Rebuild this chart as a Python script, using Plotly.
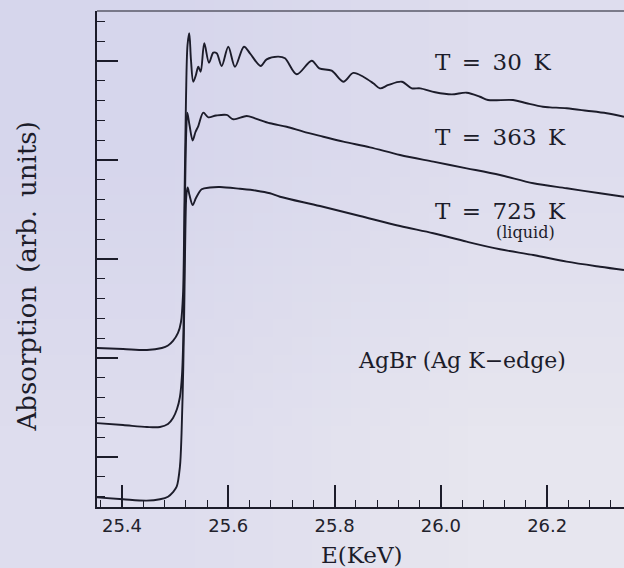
import base64
import struct
import zlib

import plotly.graph_objects as go

# ---- data (E in keV, absorption in arbitrary units) ----
e_30 = [25.351, 25.402, 25.447, 25.475, 25.4866, 25.496, 25.5054, 25.511, 25.5148,
        25.5176, 25.5204, 25.5233, 25.5266, 25.5298, 25.5341, 25.5391, 25.5436, 25.5481,
        25.5548, 25.5637, 25.5718, 25.5782, 25.5876, 25.6000, 25.6126, 25.6295, 25.6408,
        25.6610, 25.6722, 25.6941, 25.7067, 25.7287, 25.7569, 25.7712, 25.7945, 25.8164,
        25.8352, 25.8540, 25.8728, 25.8854, 25.9014, 25.9264, 25.9452, 25.9610, 25.9892,
        26.0204, 26.0486, 26.0736, 26.0886, 26.1357, 26.1614, 26.1921, 26.2053, 26.2367,
        26.2743, 26.3120, 26.3445]
a_30 = [2.101, 2.091, 2.081, 2.101, 2.126, 2.172, 2.253, 2.364, 2.640,
        3.596, 4.606, 5.162, 5.280, 5.010, 4.791, 4.859, 4.942, 4.892,
        5.179, 4.983, 5.084, 5.078, 4.949, 5.144, 4.942, 5.144, 5.078,
        4.949, 5.017, 5.044, 5.027, 4.866, 5.003, 4.926, 4.902, 4.791,
        4.880, 4.841, 4.775, 4.724, 4.758, 4.791, 4.724, 4.724, 4.684,
        4.663, 4.680, 4.639, 4.606, 4.606, 4.573, 4.538, 4.532, 4.522,
        4.498, 4.472, 4.437]

e_363 = [25.351, 25.402, 25.447, 25.4715, 25.4866, 25.496, 25.5035, 25.509, 25.5129,
         25.5157, 25.5185, 25.5210, 25.5229, 25.5270, 25.5330, 25.5383, 25.5436, 25.5530,
         25.5624, 25.5769, 25.5970, 25.6094, 25.6346, 25.6502, 25.6785, 25.7099, 25.7411,
         25.7788, 25.8164, 25.8666, 25.9231, 25.9857, 26.0486, 26.1112, 26.1739, 26.2367,
         26.2994, 26.3445]
a_363 = [1.343, 1.323, 1.303, 1.303, 1.333, 1.394, 1.485, 1.606, 1.828,
         2.283, 3.596, 4.303, 4.478, 4.354, 4.197, 4.283, 4.343, 4.478,
         4.431, 4.449, 4.455, 4.411, 4.444, 4.421, 4.371, 4.336, 4.286,
         4.235, 4.185, 4.128, 4.051, 3.983, 3.916, 3.848, 3.765, 3.714,
         3.664, 3.629]

e_725 = [25.351, 25.4019, 25.4465, 25.4715, 25.4866, 25.496, 25.5029, 25.509, 25.5121,
         25.5153, 25.5174, 25.5193, 25.5212, 25.5236, 25.5270, 25.5330, 25.5392, 25.5500,
         25.5656, 25.5844, 25.6220, 25.6534, 25.6785, 25.6973, 25.7725, 25.8478, 25.9231,
         25.9857, 26.0486, 26.1112, 26.1739, 26.2367, 26.2994, 26.3445]
a_725 = [0.593, 0.573, 0.559, 0.573, 0.599, 0.646, 0.700, 0.902, 1.242,
         1.912, 2.586, 3.293, 3.646, 3.722, 3.646, 3.545, 3.616, 3.704,
         3.722, 3.727, 3.709, 3.690, 3.664, 3.629, 3.535, 3.434, 3.333,
         3.260, 3.175, 3.098, 3.040, 2.973, 2.922, 2.889]

x_tick_vals = [25.4, 25.6, 25.8, 26.0, 26.2]
x_tick_text = ["25.4", "25.6", "25.8", "26.0", "26.2"]

series_labels = ["T = 30 K", "T = 363 K", "T = 725 K"]
label_y = [4.99, 4.237, 3.485]

BG = "#dcdbec"
INK = "#1c1c2a"
SERIF = "DejaVu Serif"
SP = "\u2002"  # en space: the original lettering is widely spaced


def gradient_png(rows):
    """Tiny RGB PNG (data URI) used as a soft background gradient."""
    h, w = len(rows), len(rows[0])
    raw = b"".join(b"\x00" + bytes(c for px in row for c in px) for row in rows)

    def chunk(tag, data):
        return (struct.pack(">I", len(data)) + tag + data
                + struct.pack(">I", zlib.crc32(tag + data) & 0xFFFFFFFF))

    png = (b"\x89PNG\r\n\x1a\n"
           + chunk(b"IHDR", struct.pack(">IIBBBBB", w, h, 8, 2, 0, 0, 0))
           + chunk(b"IDAT", zlib.compress(raw))
           + chunk(b"IEND", b""))
    return "data:image/png;base64," + base64.b64encode(png).decode()


bg_src = gradient_png([[(214, 214, 236), (222, 221, 238)],
                       [(222, 221, 238), (231, 230, 239)]])

fig = go.Figure()
for e, a, name in [(e_30, a_30, series_labels[0]),
                   (e_363, a_363, series_labels[1]),
                   (e_725, a_725, series_labels[2])]:
    fig.add_trace(go.Scatter(x=e, y=a, mode="lines", name=name,
                             line=dict(color=INK, width=1.9, shape="spline", smoothing=0.9),
                             showlegend=False, hoverinfo="skip"))

W, H = 624, 568
ML, MR, MT, MB = 97, 0, 11, 61
PW, PH = W - ML - MR, H - MT - MB

fig.update_layout(
    width=W, height=H,
    margin=dict(l=ML, r=MR, t=MT, b=MB),
    paper_bgcolor=BG, plot_bgcolor="rgba(0,0,0,0)",
    showlegend=False,
    images=[dict(source=bg_src, xref="paper", yref="paper",
                 x=-ML / PW, y=1 + MT / PH, sizex=W / PW, sizey=H / PH,
                 xanchor="left", yanchor="top", sizing="stretch", layer="below")],
)

fig.update_xaxes(
    range=[25.353, 26.3445], showgrid=False, zeroline=False,
    showline=True, linecolor=INK, linewidth=2,
    ticks="inside", ticklen=22, tickwidth=1.6, tickcolor=INK,
    tickvals=x_tick_vals, ticktext=x_tick_text,
    tickfont=dict(family="DejaVu Sans", size=18, color="#22222c"),
    ticklabelstandoff=1,
    minor=dict(ticks="inside", ticklen=7, tickwidth=1.4, tickcolor=INK,
               dtick=0.04, tick0=25.4, showgrid=False),
)
fig.update_yaxes(
    range=[0.495, 5.505], showgrid=False, zeroline=False,
    showline=True, linecolor=INK, linewidth=2,
    ticks="inside", ticklen=21, tickwidth=1.6, tickcolor=INK,
    tick0=1, dtick=1, showticklabels=False,
    minor=dict(ticks="inside", ticklen=8, tickwidth=1.4, tickcolor=INK,
               dtick=0.2, tick0=1, showgrid=False),
)

# top frame line
fig.add_shape(type="line", xref="paper", yref="paper", x0=0, x1=1, y0=1, y1=1,
              line=dict(color="#5a5a68", width=1.5))

for lab, yv in zip(series_labels, label_y):
    fig.add_annotation(x=25.985, y=yv, xref="x", yref="y", text=lab.replace(" ", SP),
                       showarrow=False, xanchor="left", yanchor="middle",
                       font=dict(family=SERIF, size=23, color=INK))

fig.add_annotation(x=26.159, y=3.263, xref="x", yref="y", text="(liquid)", showarrow=False,
                   xanchor="center", yanchor="middle",
                   font=dict(family=SERIF, size=16, color=INK))

fig.add_annotation(x=26.0397, y=1.97, xref="x", yref="y", text="AgBr (Ag K\u2212edge)",
                   showarrow=False, xanchor="center", yanchor="middle",
                   font=dict(family=SERIF, size=22, color=INK))

fig.add_annotation(x=-0.1347, y=0.4647, xref="paper", yref="paper",
                   text="Absorption (arb. units)".replace(" ", SP), textangle=-90,
                   showarrow=False, xanchor="center", yanchor="middle",
                   font=dict(family=SERIF, size=26, color=INK))

fig.add_annotation(x=0.503, y=-0.0968, xref="paper", yref="paper",
                   text="E(KeV)", showarrow=False, xanchor="center", yanchor="middle",
                   font=dict(family=SERIF, size=23, color=INK))

fig.write_html("out.html")
